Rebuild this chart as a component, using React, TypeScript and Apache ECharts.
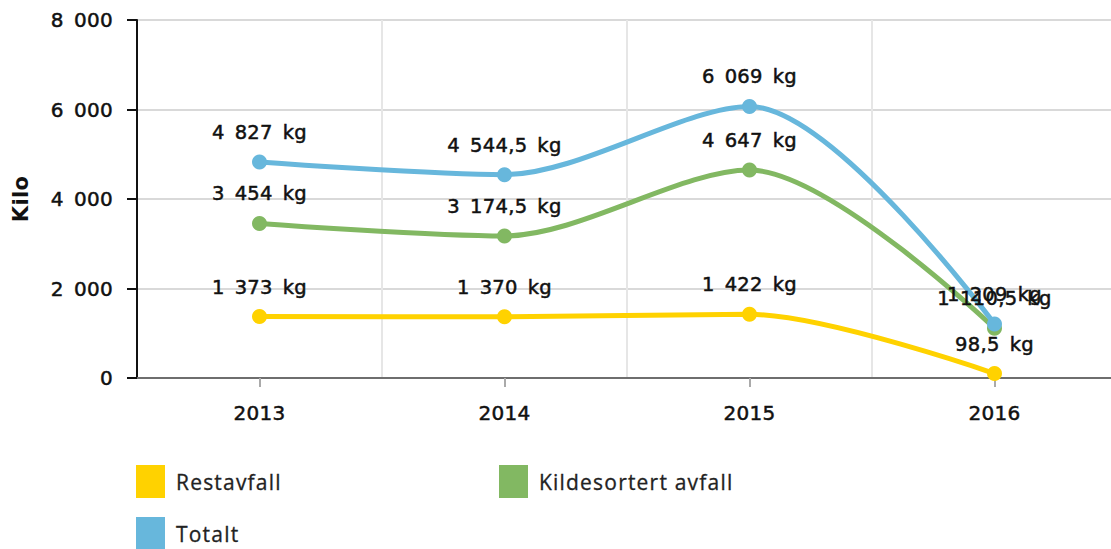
import React, { useEffect, useRef } from "react";
import * as echarts from "echarts";

const years = ["2013", "2014", "2015", "2016"];
const restavfall = [1373, 1370, 1422, 98.5];
const kildesortert = [3454, 3174.5, 4647, 1110.5];
const totalt = [4827, 4544.5, 6069, 1209];
const seriesNames = ["Restavfall", "Kildesortert avfall", "Totalt"];
const colors = ["#FFD200", "#82B862", "#67B7DC"];

function fmtNum(v: number): string {
  const neg = v < 0;
  const abs = Math.abs(v);
  const intPart = Math.floor(abs);
  const frac = abs - intPart;
  const s = String(intPart).replace(/\B(?=(\d{3})+(?!\d))/g, " ");
  let out = s;
  if (frac > 1e-9) {
    out += "," + String(Math.round(frac * 10));
  }
  return (neg ? "-" : "") + out;
}

const FONT = "DejaVu Sans";
const LEGEND_FONT = "Open Sans";
const INK = "#111111";

export default function App() {
  const ref = useRef<HTMLDivElement>(null);
  useEffect(() => {
    if (!ref.current) return;
    const chart = echarts.init(ref.current, undefined, { renderer: "svg" });
    const mkSeries = (name: string, data: number[], color: string) => ({
      name,
      type: "line",
      data,
      smooth: 0.3,
      symbol: "circle",
      symbolSize: 15,
      lineStyle: { width: 5, color },
      itemStyle: { color },
      label: {
        show: true,
        position: "top",
        distance: 12,
        fontFamily: FONT,
        fontSize: 19.5,
        color: INK,
        textBorderColor: INK,
        textBorderWidth: 0.5,
        formatter: (p: any) => fmtNum(p.value) + " kg",
      },
    });
    const legendBase = {
      icon: "rect",
      itemWidth: 29,
      itemHeight: 33,
      orient: "horizontal",
      textStyle: {
        fontFamily: LEGEND_FONT,
        fontSize: 21,
        color: "#222",
        textBorderColor: "#222",
        textBorderWidth: 0.3,
        padding: [0, 0, 0, 6],
      },
      selectedMode: false,
    };
    chart.setOption({
      animation: false,
      textStyle: { fontFamily: FONT },
      color: colors,
      grid: {
        left: 137,
        top: 20,
        width: 980,
        height: 358,
        containLabel: false,
        outerBoundsMode: "none",
      },
      legend: [
        { ...legendBase, data: [seriesNames[0]], left: 131, top: 460 },
        { ...legendBase, data: [seriesNames[1]], left: 494, top: 460 },
        { ...legendBase, data: [seriesNames[2]], left: 131, top: 512 },
      ],
      xAxis: {
        type: "category",
        data: years,
        boundaryGap: true,
        axisLine: { show: true, lineStyle: { color: "#6e6e6e", width: 2 } },
        axisTick: { show: true, alignWithLabel: true, length: 9, lineStyle: { color: "#aaaaaa", width: 2 } },
        axisLabel: {
          fontFamily: FONT,
          fontSize: 20,
          color: INK,
          textBorderColor: INK,
          textBorderWidth: 0.5,
          margin: 25,
        },
        splitLine: { show: true, lineStyle: { color: "#e6e6e6", width: 2 } },
      },
      yAxis: {
        type: "value",
        min: 0,
        max: 8000,
        interval: 2000,
        name: "Kilo",
        nameLocation: "middle",
        nameRotate: 90,
        nameGap: 106,
        nameTextStyle: { fontFamily: FONT, fontSize: 21, fontWeight: "bold", color: INK },
        axisLine: { show: true, lineStyle: { color: INK, width: 2 } },
        axisTick: { show: true, length: 10, lineStyle: { color: INK, width: 2 } },
        axisLabel: {
          fontFamily: FONT,
          fontSize: 20,
          color: INK,
          textBorderColor: INK,
          textBorderWidth: 0.5,
          margin: 24,
          formatter: (v: number) => fmtNum(v),
        },
        splitLine: { show: true, lineStyle: { color: "#d9d9d9", width: 2 } },
      },
      series: [
        mkSeries(seriesNames[0], restavfall, colors[0]),
        mkSeries(seriesNames[1], kildesortert, colors[1]),
        mkSeries(seriesNames[2], totalt, colors[2]),
      ],
    });
    return () => chart.dispose();
  }, []);
  return (
    <>
      <style>{`
        #chartbox svg text { letter-spacing: 0.3px; word-spacing: 3.5px; }
        #chartbox svg text[style*="Open Sans"] { letter-spacing: 1.2px; word-spacing: 0px; }
      `}</style>
      <div
        id="chartbox"
        ref={ref}
        style={{ position: "fixed", left: 0, top: 0, width: 1111, height: 549, background: "#fff" }}
      />
    </>
  );
}
